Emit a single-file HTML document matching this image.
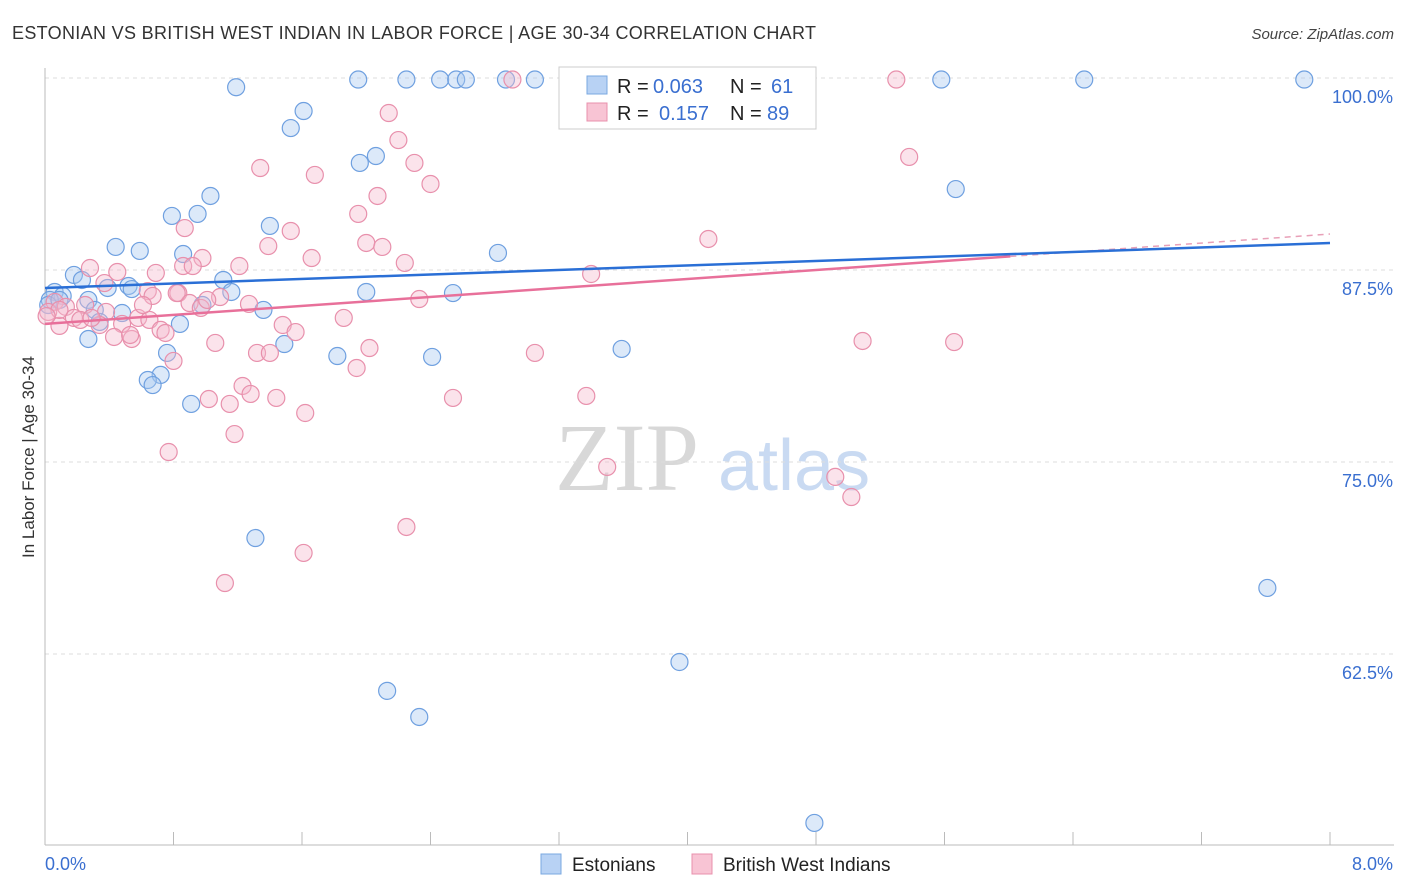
<!DOCTYPE html>
<html><head><meta charset="utf-8"><style>
body{margin:0;background:#fff;font-family:"Liberation Sans",sans-serif;}
</style></head><body>
<svg id="chart" width="1406" height="892" xmlns="http://www.w3.org/2000/svg" style="display:block">
<text x="12" y="39" font-size="18" fill="#333" textLength="804" lengthAdjust="spacing">ESTONIAN VS BRITISH WEST INDIAN IN LABOR FORCE | AGE 30-34 CORRELATION CHART</text>
<text x="1394" y="39" font-size="15" fill="#444" text-anchor="end" font-style="italic">Source: ZipAtlas.com</text>
<g>
<text x="555" y="490" font-size="96" font-family="Liberation Serif,serif" fill="#d8d8d8">ZIP</text>
<text x="718" y="490" font-size="72" fill="#c9daf2">atlas</text>
</g>
<g id="grid"></g><g id="axes"></g><g id="marks"></g>
<text transform="translate(34,457) rotate(-90)" font-size="17" fill="#333" text-anchor="middle">In Labor Force | Age 30-34</text>
<g font-size="20">
<rect x="559" y="67" width="257" height="62" fill="#fff" stroke="#ccc"/>
<rect x="587" y="76" width="20" height="18" fill="#b8d2f4" stroke="#7aa8e0"/>
<rect x="587" y="103" width="20" height="18" fill="#f8c4d4" stroke="#e890ac"/>
<text x="617" y="93" fill="#222">R =</text>
<text x="653" y="93" fill="#3a6fd0">0.063</text>
<text x="730" y="93" fill="#222">N =</text>
<text x="771" y="93" fill="#3a6fd0">61</text>
<text x="617" y="120" fill="#222">R =</text>
<text x="659" y="120" fill="#3a6fd0">0.157</text>
<text x="730" y="120" fill="#222">N =</text>
<text x="767" y="120" fill="#3a6fd0">89</text>
</g>
<g>
<rect x="541" y="854" width="20" height="20" fill="#b8d2f4" stroke="#7aa8e0"/>
<text x="572" y="871" font-size="19" fill="#222">Estonians</text>
<rect x="692" y="854" width="20" height="20" fill="#f8c4d4" stroke="#e890ac"/>
<text x="723" y="871" font-size="19" fill="#222">British West Indians</text>
</g>
</svg>
<script>
const blueX=[1.19,1.95,2.25,2.46,2.56,2.62,2.87,3.05,5.58,6.47,7.84,1.61,1.53,2.06,1.96,1.03,5.67,0.79,0.95,1.40,0.44,0.59,0.86,2.82,0.18,0.23,1.11,0.39,0.52,0.54,1.16,2.0,2.54,0.06,0.11,0.03,0.27,0.31,0.48,0.98,1.36,0.34,0.84,0.27,1.49,0.76,1.82,2.41,3.59,0.72,0.64,0.67,0.91,1.31,3.95,2.13,2.33,4.79,7.61,0.02,0.09];
const blueY=[99.4,99.9,99.9,99.9,99.9,99.9,99.9,99.9,99.9,99.9,99.9,97.85,96.74,94.92,94.47,92.32,92.77,91.02,91.15,90.37,89.0,88.74,88.54,88.61,87.18,86.85,86.85,86.33,86.46,86.26,86.07,86.07,86.0,86.07,85.81,85.55,85.55,84.9,84.7,85.22,84.9,84.12,83.99,83.01,82.68,82.1,81.9,81.84,82.36,80.67,80.34,80.01,78.78,70.05,61.98,60.1,58.4,51.5,66.8,85.22,85.55];
const pinkX=[2.91,4.39,5.30,2.14,2.20,5.38,1.34,2.30,1.68,2.40,2.07,1.95,0.87,1.53,2.0,2.10,1.39,4.13,0.98,1.66,2.24,0.28,0.86,0.92,1.21,0.45,0.69,3.40,0.37,0.64,0.67,0.83,2.33,1.09,1.27,0.90,0.97,0.06,0.13,0.25,0.38,0.58,0.02,0.18,0.22,0.34,0.48,0.65,1.48,1.86,0.09,0.72,0.75,0.43,0.54,1.56,1.06,2.02,3.05,1.32,1.40,0.80,1.94,1.23,1.02,1.15,1.28,1.44,1.62,2.54,3.37,1.18,0.77,3.50,4.92,5.02,2.25,1.61,1.12,5.09,5.66,0.61,0.09,0.53,1.01,0.29,0.82,0.01];
const pinkY=[99.9,99.9,99.9,97.72,95.96,94.86,94.14,94.47,93.69,93.1,92.32,91.15,90.23,90.04,89.26,89.0,89.06,89.52,88.28,88.28,87.96,87.63,87.76,87.76,87.76,87.37,87.31,87.24,86.65,86.13,85.81,86.0,85.61,85.74,85.29,85.35,85.03,85.42,85.1,85.22,84.77,84.38,84.77,84.38,84.25,83.92,83.99,84.25,83.92,84.38,83.86,83.6,83.4,83.14,83.01,83.46,82.75,82.42,82.1,82.1,82.1,81.58,81.12,79.95,79.1,78.78,79.43,79.17,78.19,79.17,79.3,76.82,75.65,74.68,74.03,72.72,70.77,69.08,67.12,82.88,82.81,85.22,84.9,83.27,85.55,84.38,86.0,84.5];
const yTicks=[100,87.5,75,62.5];
const yTickLabels=["100.0%","87.5%","75.0%","62.5%"];
const blueTrend=[86.33,89.26];
const pinkTrend=[83.99,89.84];
const pinkSolidEnd=6.01;

const NS="http://www.w3.org/2000/svg";
const X=v=>45+v/8*1285;
const Y=v=>78+(100-v)*15.36;
function mk(tag,attrs,parent){const e=document.createElementNS(NS,tag);for(const k in attrs)e.setAttribute(k,attrs[k]);parent.appendChild(e);return e;}
const grid=document.getElementById('grid'),axes=document.getElementById('axes'),marks=document.getElementById('marks');
yTicks.forEach((t,i)=>{
  const l=mk('line',{x1:45,x2:1394,y1:Y(t),y2:Y(t),stroke:'#ddd','stroke-dasharray':'4,4'},grid);
  
  
  const tx=mk('text',{x:1393,y:Y(t)+25,'font-size':18,fill:'#3a6fd0','text-anchor':'end'},axes);
  tx.textContent=yTickLabels[i];
  
  
});
const ax=mk('line',{x1:45,x2:1394,y1:845,y2:845,stroke:'#bbb'},axes);


const ay=mk('line',{x1:45,x2:45,y1:68,y2:845,stroke:'#bbb'},axes);


for(let i=0;i<=10;i++){const t=mk('line',{x1:X(i*0.8),x2:X(i*0.8),y1:832,y2:845,stroke:'#bbb'},axes);
  
  }
const x0=mk('text',{x:45,y:870,'font-size':18,fill:'#3a6fd0'},axes);x0.textContent='0.0%';


const x1=mk('text',{x:1393,y:870,'font-size':18,fill:'#3a6fd0','text-anchor':'end'},axes);x1.textContent='8.0%';


function pts(xs,ys,fill,stroke,name){xs.forEach((v,i)=>{const c=mk('circle',{cx:X(v),cy:Y(ys[i]),r:8.5,fill:fill,'fill-opacity':0.4,stroke:stroke,'stroke-width':1.2},marks);
  
  });}
pts(blueX,blueY,'#a8c8f0','#6fa0e0','estonian-point');
pts(pinkX,pinkY,'#f5b8cc','#e890ac','bwi-point');
const pAt=x=>pinkTrend[0]+(pinkTrend[1]-pinkTrend[0])*x/8;
const pd=mk('line',{x1:X(pinkSolidEnd),y1:Y(pAt(pinkSolidEnd)),x2:X(8),y2:Y(pinkTrend[1]),stroke:'#e8a0b8','stroke-width':1.5,'stroke-dasharray':'6,5'},marks);


const pl=mk('line',{x1:X(0),y1:Y(pinkTrend[0]),x2:X(pinkSolidEnd),y2:Y(pAt(pinkSolidEnd)),stroke:'#e8709a','stroke-width':2.5},marks);


const bl=mk('line',{x1:X(0),y1:Y(blueTrend[0]),x2:X(8),y2:Y(blueTrend[1]),stroke:'#2a6fd6','stroke-width':2.5},marks);


</script>
</body></html>
